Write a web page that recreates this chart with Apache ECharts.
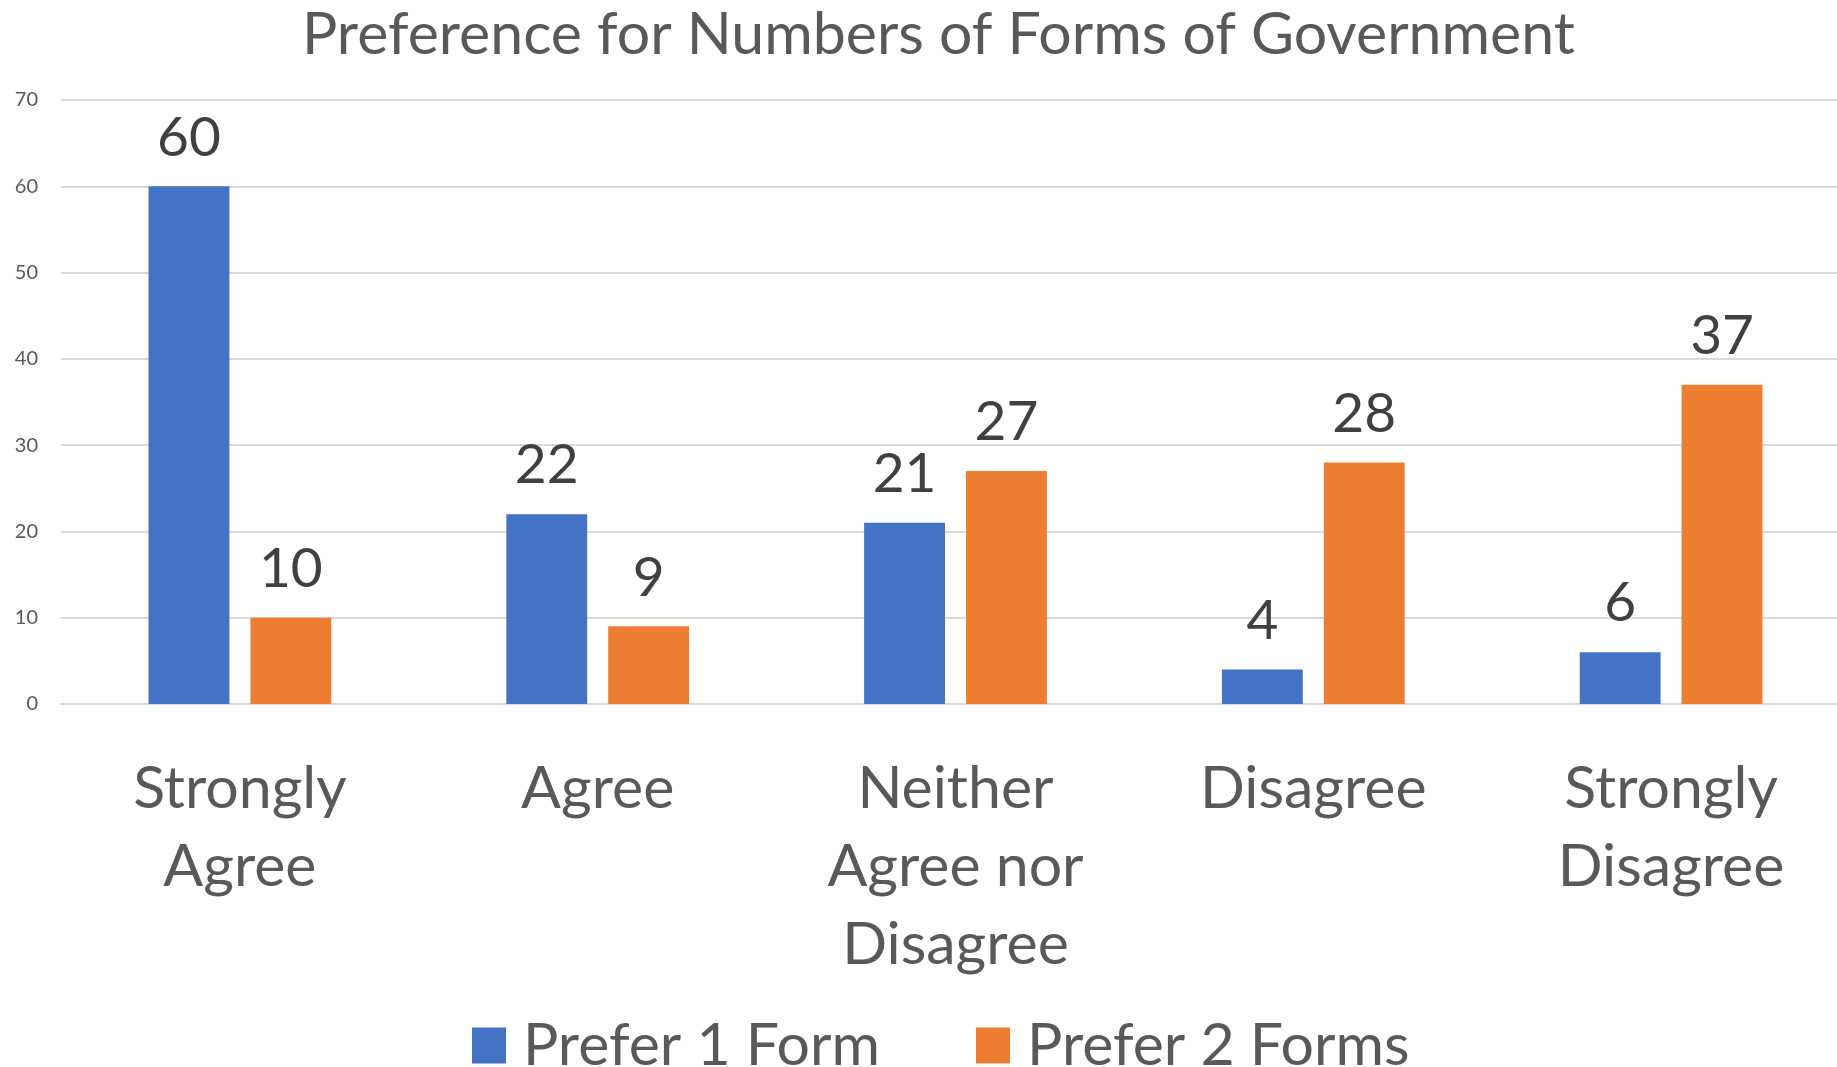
<!DOCTYPE html>
<html>
<head>
<meta charset="utf-8">
<style>
  html, body { margin: 0; padding: 0; background: #fff; }
  #chart { width: 1837px; height: 1067px; }
</style>
<script src="https://cdn.jsdelivr.net/npm/echarts@6/dist/echarts.min.js"></script>
</head>
<body>
<div id="chart"></div>
<script>
  var categories = ['Strongly Agree', 'Agree', 'Neither Agree nor Disagree', 'Disagree', 'Strongly Disagree'];
  var seriesNames = ['Prefer 1 Form', 'Prefer 2 Forms'];
  var prefer1 = [60, 22, 21, 4, 6];
  var prefer2 = [10, 9, 27, 28, 37];
  var colorList = ['#4472C4', '#ED7D31'];

  var font = 'Lato';
  var chart = echarts.init(document.getElementById('chart'));

  // word wrap without leaving trailing spaces (keeps lines centred)
  function wrapLabel(text) {
    var words = text.split(' ');
    var lines = [];
    var cur = '';
    words.forEach(function(w) {
      if (cur && (cur + ' ' + w).length > 10) {
        lines.push(cur);
        cur = w;
      } else {
        cur = cur ? cur + ' ' + w : w;
      }
    });
    lines.push(cur);
    return lines.join('\n');
  }

  var labelStyle = {
    show: true,
    position: 'top',
    distance: 21,
    color: '#404040',
    fontFamily: font,
    fontSize: 55,
    lineHeight: 55
  };

  chart.setOption({
    backgroundColor: '#fff',
    animation: false,
    color: colorList,
    title: {
      text: 'Preference for Numbers of Forms of Government',
      left: 297,
      top: 0,
      textStyle: {
        color: '#595959',
        fontFamily: font,
        fontWeight: 'normal',
        fontSize: 59
      }
    },
    legend: {
      data: seriesNames,
      left: 472,
      top: 1016,
      padding: 0,
      icon: 'rect',
      itemWidth: 34,
      itemHeight: 36,
      itemGap: 96,
      textStyle: {
        color: '#595959',
        fontFamily: font,
        fontSize: 59,
        padding: [0, 0, 0, 12]
      }
    },
    // plot runs past the right edge of the canvas, as in the original
    grid: {
      left: 61,
      width: 1789,
      top: 100,
      height: 604,
      containLabel: false,
      outerBoundsMode: 'none'
    },
    xAxis: {
      type: 'category',
      data: categories,
      axisTick: { show: false },
      axisLine: { lineStyle: { color: '#d9d9d9', width: 2 } },
      axisLabel: {
        color: '#595959',
        fontFamily: font,
        fontSize: 59,
        lineHeight: 78,
        margin: 46,
        interval: 0,
        formatter: wrapLabel
      }
    },
    yAxis: {
      type: 'value',
      min: 0,
      max: 70,
      interval: 10,
      axisLine: { show: false },
      axisTick: { show: false },
      axisLabel: {
        color: '#595959',
        fontFamily: font,
        fontSize: 20,
        margin: 23
      },
      splitLine: { lineStyle: { color: '#d9d9d9', width: 2 } }
    },
    series: [{
      name: seriesNames[0],
      type: 'bar',
      data: prefer1,
      barWidth: '22.6%',
      barGap: '26%',
      label: labelStyle
    }, {
      name: seriesNames[1],
      type: 'bar',
      data: prefer2,
      barWidth: '22.6%',
      barGap: '26%',
      label: labelStyle
    }]
  });
</script>
</body>
</html>
